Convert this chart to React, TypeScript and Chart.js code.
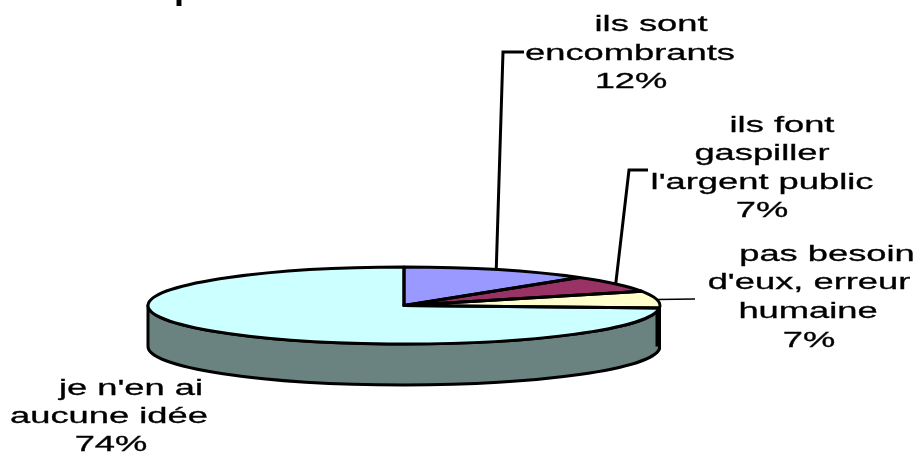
import React, { useEffect, useRef } from "react";
import { Chart, registerables } from "chart.js";

Chart.register(...registerables);

const categoryLines = [
  ["ils sont", "encombrants"],
  ["ils font", "gaspiller", "l'argent public"],
  ["pas besoin", "d'eux, erreur", "humaine"],
  ["je n'en ai", "aucune idée"],
];
const shares = [12, 7, 7, 74];
const sliceColors = ["#9999FF", "#993366", "#FFFFCC", "#CCFFFF"];
const sideColor = "#6A8280";
const clippedTitleFragment = "p";

// Layout: [centre x, baseline y] of each text line, slice by slice.
const textLayout: [number, number][][] = [
  [[651, 31], [630, 60], [631, 88]],
  [[782, 132], [762, 160], [762, 189], [762, 217]],
  [[827, 261], [809, 289], [808, 318], [809, 347]],
  [[131, 395], [109, 423], [111, 451]],
];
// Leader elbows after the slice anchor.
const leaderLayout: { pts: [number, number][]; w: number }[] = [
  { pts: [[503, 52], [524, 52]], w: 3 },
  { pts: [[629, 170], [648, 170]], w: 3 },
  { pts: [[695, 299]], w: 1.5 },
];

const CX = 404;
const CY = 305.5;
const RX = 256;
const RY = 38.5;
const DEPTH = 41;
const FONT_PX = 22;
const STRETCH = 1.65;

const piePlugin = {
  id: "flatPie",
  beforeDatasetsDraw(chart: any) {
    const ctx = chart.ctx;
    const arcs = chart.getDatasetMeta(0).data;
    const last = arcs[arcs.length - 1];
    // side wall of the disc, visible part of the big slice
    const a0 = Math.max(0, last.startAngle);
    ctx.save();
    ctx.beginPath();
    ctx.ellipse(CX, CY, RX, RY, 0, a0, Math.PI);
    ctx.lineTo(CX - RX, CY + DEPTH);
    ctx.ellipse(CX, CY + DEPTH, RX, RY, 0, Math.PI, a0, true);
    ctx.closePath();
    ctx.fillStyle = sideColor;
    ctx.fill();
    ctx.strokeStyle = "#000";
    ctx.lineWidth = 3;
    ctx.lineJoin = "round";
    ctx.stroke();
    // dark right edge
    ctx.beginPath();
    ctx.moveTo(CX + RX - 2, CY - 3);
    ctx.lineTo(CX + RX - 2, CY + DEPTH);
    ctx.lineWidth = 5;
    ctx.stroke();
    ctx.restore();

    const r = last.outerRadius;
    ctx.save();
    ctx.translate(CX, CY);
    ctx.scale(RX / r, RY / r);
    ctx.translate(-last.x, -last.y);
  },
  afterDatasetsDraw(chart: any) {
    const ctx = chart.ctx;
    ctx.restore();
    const arcs = chart.getDatasetMeta(0).data;
    ctx.save();
    ctx.strokeStyle = "#000";
    ctx.lineJoin = "round";
    ctx.lineWidth = 3;
    arcs.forEach((arc: any) => {
      ctx.beginPath();
      ctx.moveTo(CX, CY);
      ctx.ellipse(CX, CY, RX, RY, 0, arc.startAngle, arc.endAngle);
      ctx.closePath();
      ctx.stroke();
    });
    // leaders
    leaderLayout.forEach((leader, i) => {
      const mid = (arcs[i].startAngle + arcs[i].endAngle) / 2;
      ctx.beginPath();
      ctx.moveTo(CX + RX * Math.cos(mid) - (i === 0 ? 2 : 0), CY + RY * Math.sin(mid));
      leader.pts.forEach(([x, y]) => ctx.lineTo(x, y));
      ctx.lineWidth = leader.w;
      ctx.lineJoin = "miter";
      ctx.stroke();
    });
    // labels
    ctx.fillStyle = "#000";
    ctx.font = `${FONT_PX}px "Liberation Sans"`;
    ctx.textAlign = "center";
    ctx.textBaseline = "alphabetic";
    ctx.lineWidth = 0.3;
    categoryLines.forEach((lines, i) => {
      const all = [...lines, `${shares[i]}%`];
      all.forEach((text, j) => {
        const [x, y] = textLayout[i][j];
        ctx.save();
        ctx.translate(x, y);
        ctx.scale(STRETCH, 1);
        ctx.fillText(text, 0, 0);
        ctx.strokeText(text, 0, 0);
        ctx.restore();
      });
    });
    // bottom of the title, cut off by the top edge of the picture
    ctx.font = 'bold 36px "Liberation Sans"';
    ctx.textAlign = "left";
    ctx.fillText(clippedTitleFragment, 174, -2.5);
    ctx.restore();
  },
};

export default function App() {
  const ref = useRef<HTMLCanvasElement>(null);
  useEffect(() => {
    document.body.style.margin = "0";
    document.body.style.background = "#fff";
    const chart = new Chart(ref.current!, {
      type: "pie",
      data: {
        labels: categoryLines.map((l) => l.join(" ")),
        datasets: [
          {
            data: shares,
            backgroundColor: sliceColors,
            borderWidth: 0,
            hoverOffset: 0,
          },
        ],
      },
      options: {
        responsive: false,
        animation: false,
        rotation: 0,
        layout: { padding: 0 },
        plugins: { legend: { display: false }, tooltip: { enabled: false } },
        events: [],
      },
      plugins: [piePlugin],
    });
    return () => chart.destroy();
  }, []);
  return <canvas ref={ref} width={920} height={454} style={{ display: "block" }} />;
}
